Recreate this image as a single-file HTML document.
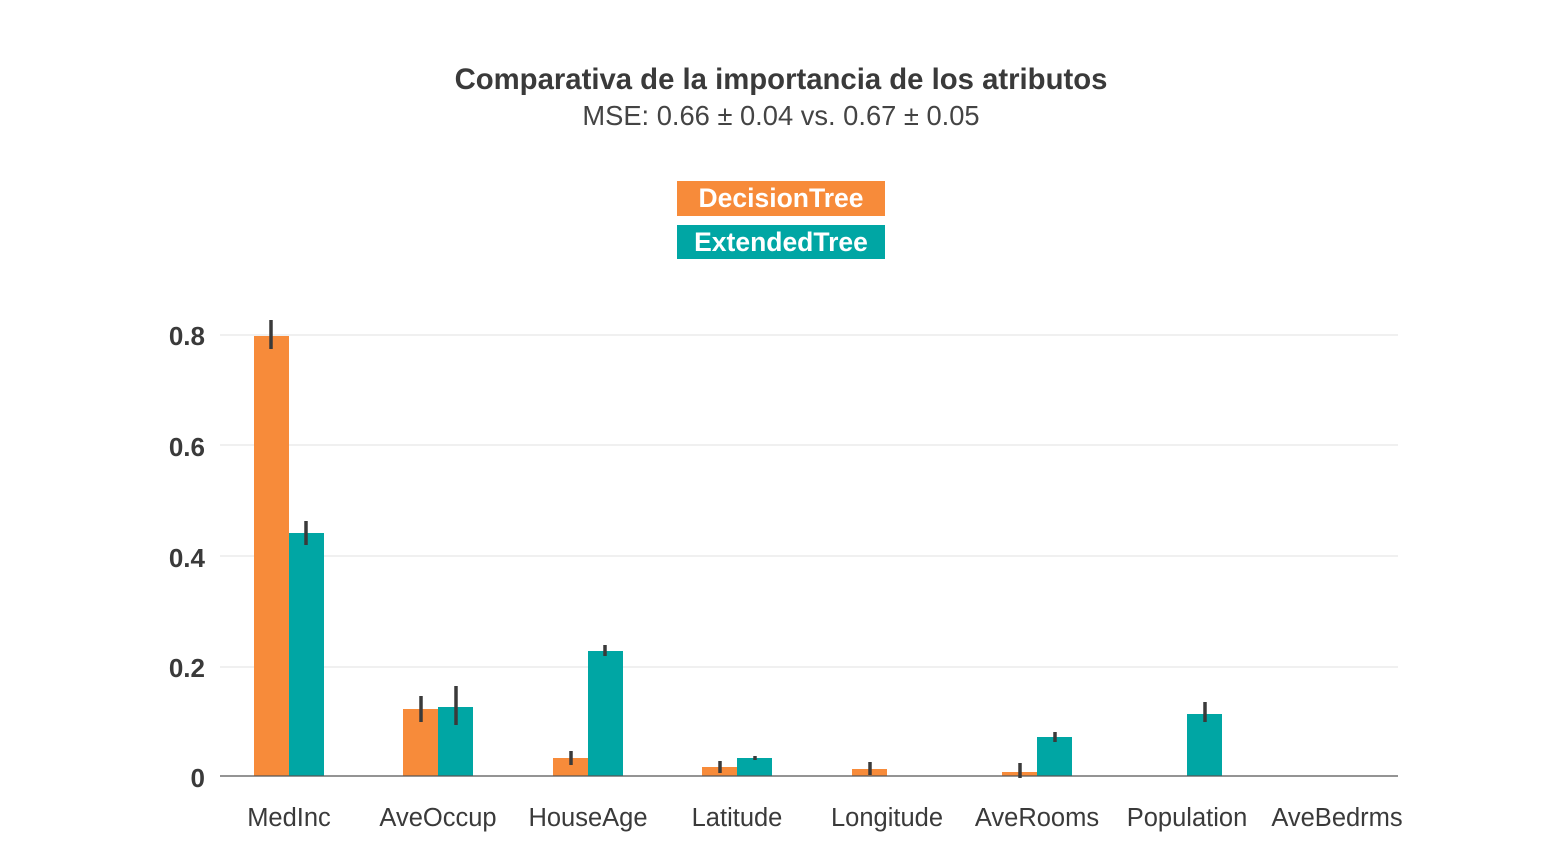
<!DOCTYPE html>
<html><head><meta charset="utf-8"><style>
body{margin:0;background:#fff;}
</style></head><body>
<svg width="1563" height="859" xmlns="http://www.w3.org/2000/svg" font-family="Liberation Sans, sans-serif">
<rect width="1563" height="859" fill="#fff"/>
<text x="781" y="89" text-anchor="middle" font-size="29.3" font-weight="bold" fill="#3a3a3a">Comparativa de la importancia de los atributos</text>
<text x="781" y="125" text-anchor="middle" font-size="27.3" fill="#444">MSE: 0.66 ± 0.04 vs. 0.67 ± 0.05</text>
<rect x="677" y="181" width="208" height="35" fill="#F78B3A"/>
<text x="781" y="207" text-anchor="middle" font-size="26.5" font-weight="bold" fill="#fff">DecisionTree</text>
<rect x="677" y="225" width="208" height="34" fill="#00A6A4"/>
<text x="781" y="251" text-anchor="middle" font-size="26.5" font-weight="bold" fill="#fff">ExtendedTree</text>
<g stroke="#e0e0e0" stroke-width="1">
<line x1="220" x2="1398" y1="335" y2="335"/><line x1="220" x2="1398" y1="445" y2="445"/>
<line x1="220" x2="1398" y1="556" y2="556"/><line x1="220" x2="1398" y1="667" y2="667"/>
</g>
<g font-size="26" font-weight="bold" fill="#3a3a3a" text-anchor="end">
<text x="205" y="345">0.8</text><text x="205" y="456">0.6</text><text x="205" y="567">0.4</text><text x="205" y="677">0.2</text><text x="205" y="787">0</text>
</g>
<g fill="#F78B3A">
<rect x="254" y="336" width="35" height="440"/>
<rect x="403" y="709" width="35" height="67"/>
<rect x="553" y="758" width="35" height="18"/>
<rect x="702" y="767" width="35" height="9"/>
<rect x="852" y="769" width="35" height="7"/>
<rect x="1002" y="772" width="35" height="4"/>
</g>
<g fill="#00A6A4">
<rect x="289" y="533" width="35" height="243"/>
<rect x="438" y="707" width="35" height="69"/>
<rect x="588" y="651" width="35" height="125"/>
<rect x="737" y="758" width="35" height="18"/>
<rect x="1037" y="737" width="35" height="39"/>
<rect x="1187" y="714" width="35" height="62"/>
</g>
<line x1="220" x2="1398" y1="776" y2="776" stroke="#555" stroke-width="1.2"/>
<g stroke="#3a3a3a" stroke-width="3.5">
<line x1="271" x2="271" y1="320" y2="349"/><line x1="306" x2="306" y1="521" y2="545"/>
<line x1="421" x2="421" y1="696" y2="722"/><line x1="456" x2="456" y1="686" y2="725"/>
<line x1="571" x2="571" y1="751" y2="765"/><line x1="605" x2="605" y1="645" y2="656"/>
<line x1="720" x2="720" y1="761" y2="773"/><line x1="755" x2="755" y1="756" y2="760"/>
<line x1="870" x2="870" y1="762" y2="775"/>
<line x1="1020" x2="1020" y1="763" y2="778"/><line x1="1055" x2="1055" y1="732" y2="742"/>
<line x1="1205" x2="1205" y1="702" y2="722"/>
</g>
<g font-size="25.5" fill="#3a3a3a" text-anchor="middle">
<text x="289" y="826">MedInc</text><text x="438" y="826">AveOccup</text><text x="588" y="826">HouseAge</text><text x="737" y="826">Latitude</text>
<text x="887" y="826">Longitude</text><text x="1037" y="826">AveRooms</text><text x="1187" y="826">Population</text><text x="1337" y="826">AveBedrms</text>
</g>
</svg>
</body></html>
